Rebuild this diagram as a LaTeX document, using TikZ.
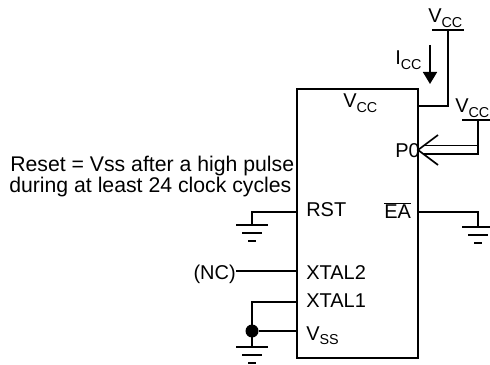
\documentclass[tikz,border=0pt]{standalone}
\usepackage{fontspec}
\setmainfont{Liberation Sans}
\usetikzlibrary{calc,arrows.meta}
\newcommand{\subtxt}[2]{#1\raisebox{-3.5pt}{\fontsize{10.2}{12}\selectfont #2}}
\tikzset{
	wire/.style={line width=1.2pt},
	lbl/.style={inner sep=0pt, anchor=base west, font=\fontsize{14.2}{16}\selectfont},
	note/.style={inner sep=0pt, anchor=base west, font=\fontsize{15.1}{16}\selectfont},
	gnd/.pic={
		\draw[wire] (-16,0)--(16,0);
		\draw[wire] (-10,8)--(10,8);
		\draw[wire] (-4,16)--(4,16);
	}
}
\begin{document}
\begin{tikzpicture}[x=0.025cm,y=-0.025cm]
	\useasboundingbox (0,0) rectangle (490,365);
	% chip
	\node[draw, wire, minimum width=121*0.025cm, minimum height=269*0.025cm, inner sep=0pt] (chip) at (357.5,223.5) {};
	% labels inside
	\node[lbl] (lvcc) at (343,108) {\subtxt{V}{CC}};
	\node[lbl] (lp) at (395,158) {P0};
	\node[lbl] (lrst) at (306,217) {RST};
	\node[lbl] (lea) at (384,219) {$\overline{\mbox{EA}}$};
	\node[lbl] (lxt) at (306,279) {XTAL2};
	\node[lbl] (lxo) at (306,307) {XTAL1};
	\node[lbl] (lvss) at (306,340) {\subtxt{V}{SS}};
	\node[lbl, anchor=base east] (lnc) at (236,279) {(NC)};
	\node[note] (lreset) at (10,172) {Reset = Vss after a high pulse};
	\node[note] (lduring) at (9,193) {during at least 24 clock cycles};
	% supply on top
	\coordinate (vtl) at (432,30);
	\coordinate (vtr) at (464,30);
	\coordinate (vtm) at (448,30);
	\coordinate (vtp) at (418,106);
	\draw[wire] (vtl)--(vtr);
	\draw[wire] (vtm)--(vtm |- vtp)--(vtp);
	\node[lbl] (ltv) at (428,23) {\subtxt{V}{CC}};
	% current
	\coordinate (ia) at (430,45);
	\coordinate (ib) at (430,84);
	\draw[wire, -{Triangle[length=12*0.025cm, width=14*0.025cm]}] (ia)--(ib);
	\node[lbl] (lii) at (395,65) {\subtxt{I}{CC}};
	% P0 pull up
	\coordinate (pl) at (462,120);
	\coordinate (pr) at (490,120);
	\coordinate (pm) at (478,120);
	\coordinate (pa) at (424,145.5);
	\coordinate (pb) at (424,154);
	\coordinate (ptip) at (418,150);
	\node[lbl] (lpv) at (455,113) {\subtxt{V}{CC}};
	\draw[wire] (pl)--(pr);
	\draw[wire] (pm)--(pm |- pb)--(pb);
	\draw[wire] (pa)--(pm |- pa);
	\draw[wire] (438,135)--(ptip)--(438,165);
	% RST
	\coordinate (rp) at (297,212);
	\coordinate (rg) at (252,225);
	\draw[wire] (rp)--(rg |- rp)--(rg);
	\pic at (rg) {gnd};
	% EA
	\coordinate (ep) at (418,212);
	\coordinate (eg) at (478,227);
	\draw[wire] (ep)--(eg |- ep)--(eg);
	\pic at (eg) {gnd};
	% XTAL
	\coordinate (xb) at (297,271);
	\draw[wire] (lnc.east |- xb)--(xb);
	\coordinate (xa) at (297,302);
	\coordinate (sp) at (297,331);
	\coordinate (sg) at (252,347);
	\node[circle, fill=black, inner sep=0pt, minimum size=13*0.025cm] (dot) at (sg |- sp) {};
	\draw[wire] (xa)--(sg |- xa)--(sg);
	\draw[wire] (dot)--(sp);
	\pic at (sg) {gnd};
\end{tikzpicture}
\end{document}
